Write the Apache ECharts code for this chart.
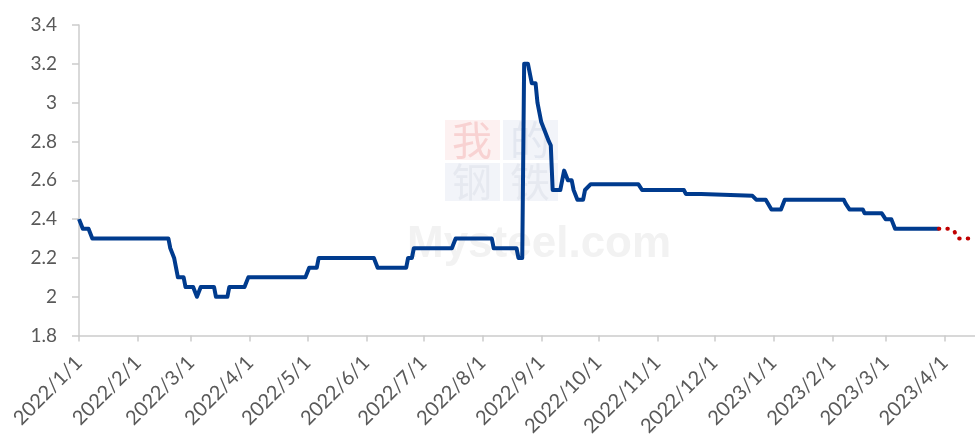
<!DOCTYPE html>
<html>
<head>
<meta charset="utf-8">
<script src="https://cdn.jsdelivr.net/npm/echarts@6/dist/echarts.min.js"></script>
<style>
html, body { margin: 0; padding: 0; background: #fff; }
#main { width: 975px; height: 439px; }
</style>
</head>
<body>
<div id="main"></div>
<script>
// 实际价格（蓝色实线）
const priceDates = [
  '2022/1/1', '2022/1/3', '2022/1/6', '2022/1/8', '2022/2/17', '2022/2/18', '2022/2/19', '2022/2/20',
  '2022/2/21', '2022/2/22', '2022/2/25', '2022/2/26', '2022/3/2', '2022/3/4', '2022/3/5', '2022/3/6',
  '2022/3/13', '2022/3/14', '2022/3/20', '2022/3/21', '2022/3/29', '2022/3/31', '2022/4/30', '2022/5/2',
  '2022/5/6', '2022/5/7', '2022/6/5', '2022/6/7', '2022/6/22', '2022/6/23', '2022/6/25', '2022/6/26',
  '2022/7/16', '2022/7/18', '2022/8/6', '2022/8/7', '2022/8/19', '2022/8/20', '2022/8/22', '2022/8/23',
  '2022/8/25', '2022/8/27', '2022/8/29', '2022/8/30', '2022/8/31', '2022/9/1', '2022/9/2', '2022/9/3',
  '2022/9/4', '2022/9/5', '2022/9/6', '2022/9/7', '2022/9/11', '2022/9/13', '2022/9/15', '2022/9/17',
  '2022/9/18', '2022/9/19', '2022/9/20', '2022/9/23', '2022/9/24', '2022/9/27', '2022/10/22', '2022/10/24',
  '2022/11/15', '2022/11/16', '2022/11/24', '2022/11/25', '2022/12/21', '2022/12/23', '2022/12/28', '2022/12/31',
  '2023/1/5', '2023/1/7', '2023/2/7', '2023/2/8', '2023/2/9', '2023/2/10', '2023/2/17', '2023/2/18',
  '2023/2/27', '2023/3/1', '2023/3/4', '2023/3/6', '2023/3/29'
]
const priceValues = [
  2.4, 2.35, 2.35, 2.3, 2.3, 2.25, 2.25, 2.2,
  2.2, 2.1, 2.1, 2.05, 2.05, 2.0, 2.0, 2.05,
  2.05, 2.0, 2.0, 2.05, 2.05, 2.1, 2.1, 2.15,
  2.15, 2.2, 2.2, 2.15, 2.15, 2.2, 2.2, 2.25,
  2.25, 2.3, 2.3, 2.25, 2.25, 2.2, 2.2, 3.2,
  3.2, 3.1, 3.1, 3.0, 2.95, 2.9, 2.9, 2.85,
  2.85, 2.8, 2.78, 2.55, 2.55, 2.65, 2.6, 2.6,
  2.55, 2.55, 2.5, 2.5, 2.55, 2.58, 2.58, 2.55,
  2.55, 2.53, 2.53, 2.52, 2.52, 2.5, 2.5, 2.45,
  2.45, 2.5, 2.5, 2.48, 2.48, 2.45, 2.45, 2.43,
  2.43, 2.4, 2.4, 2.35, 2.35
]
// 预测（红色点线）
const forecastDates = ['2023/3/29', '2023/4/3', '2023/4/6', '2023/4/8', '2023/4/17']
const forecastValues = [2.35, 2.35, 2.34, 2.3, 2.3]
// 横轴刻度
const monthTicks = [
  '2022/1/1', '2022/2/1', '2022/3/1', '2022/4/1', '2022/5/1', '2022/6/1', '2022/7/1', '2022/8/1',
  '2022/9/1', '2022/10/1', '2022/11/1', '2022/12/1', '2023/1/1', '2023/2/1', '2023/3/1', '2023/4/1'
]
const axisStart = '2022/1/1'
const axisEnd = '2023/4/17'

function toTime (s) {
  let p = s.split('/')
  return new Date(+p[0], +p[1] - 1, +p[2]).getTime()
}
function pairs (dates, values) {
  return dates.map((d, i) => [toTime(d), values[i]])
}
function fmtDate (v) {
  let d = new Date(v)
  return d.getFullYear() + '/' + (d.getMonth() + 1) + '/' + d.getDate()
}

const tickValues = monthTicks.map(toTime)
const axisColor = '#cccccc'
const textColor = '#595959'
const font = 'Lato, "Open Sans", sans-serif'

let option = {
  animation: false,
  grid: { left: 79, right: 0, top: 25, bottom: 103 },
  xAxis: {
    type: 'value',
    min: toTime(axisStart),
    max: toTime(axisEnd),
    splitLine: { show: false },
    axisLine: { lineStyle: { color: axisColor, width: 1.5 } },
    axisTick: { show: true, length: 6, customValues: tickValues, lineStyle: { color: axisColor, width: 1.5 } },
    axisLabel: {
      customValues: tickValues,
      rotate: 45,
      margin: 24,
      color: textColor,
      fontSize: 20,
      fontFamily: font,
      formatter: fmtDate
    }
  },
  yAxis: {
    type: 'value',
    min: 1.8,
    max: 3.4,
    interval: 0.2,
    splitLine: { show: false },
    axisLine: { show: true, lineStyle: { color: axisColor, width: 1.5 } },
    axisTick: { show: true, length: 7, lineStyle: { color: axisColor, width: 1.5 } },
    axisLabel: { margin: 22, color: textColor, fontSize: 19, fontFamily: font }
  },
  graphic: [
    { type: 'rect', z: 0, shape: { x: 445, y: 120, width: 55, height: 40 }, style: { fill: '#fdf1f1' } },
    { type: 'rect', z: 0, shape: { x: 503, y: 120, width: 55, height: 40 }, style: { fill: '#f2f4f9' } },
    { type: 'rect', z: 0, shape: { x: 445, y: 163, width: 55, height: 38 }, style: { fill: '#f2f4f9' } },
    { type: 'rect', z: 0, shape: { x: 503, y: 163, width: 55, height: 38 }, style: { fill: '#f2f4f9' } },
    { type: 'text', z: 0, style: { x: 472, y: 140, text: '我', fill: '#f8d2d2', font: '40px "Noto Sans CJK SC"', align: 'center', verticalAlign: 'middle' } },
    { type: 'text', z: 0, style: { x: 530, y: 140, text: '的', fill: '#e3e7f0', font: '40px "Noto Sans CJK SC"', align: 'center', verticalAlign: 'middle' } },
    { type: 'text', z: 0, style: { x: 472, y: 182, text: '钢', fill: '#e6e9f0', font: '40px "Noto Sans CJK SC"', align: 'center', verticalAlign: 'middle' } },
    { type: 'text', z: 0, style: { x: 530, y: 182, text: '铁', fill: '#e6e9f0', font: '40px "Noto Sans CJK SC"', align: 'center', verticalAlign: 'middle' } },
    { type: 'text', z: 0, style: { x: 407, y: 223, text: 'Mysteel.com', fill: '#f2f2f2', font: 'bold 44px "Liberation Sans"', align: 'left', verticalAlign: 'alphabetic' } }
  ],
  series: [
    {
      name: '价格',
      type: 'line',
      data: pairs(priceDates, priceValues),
      symbol: 'none',
      z: 3,
      lineStyle: { color: '#003b8e', width: 4, join: 'round' }
    },
    {
      name: '预测',
      type: 'line',
      data: pairs(forecastDates, forecastValues),
      symbol: 'none',
      z: 4,
      lineStyle: { color: '#c00000', width: 4, type: [0.5, 8], cap: 'round' }
    }
  ]
}

let chart = echarts.init(document.getElementById('main'))
chart.setOption(option)
</script>
</body>
</html>
